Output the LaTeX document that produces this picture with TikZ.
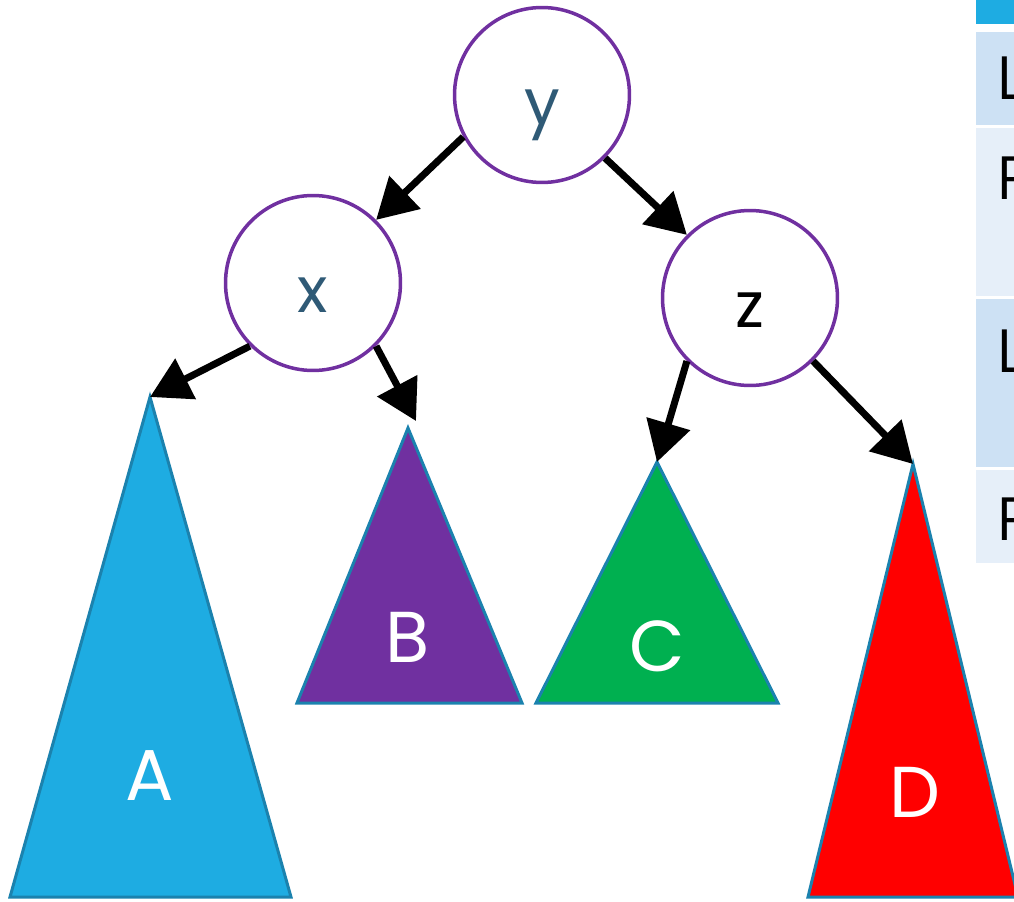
\documentclass[tikz,border=0pt]{standalone}
\usepackage{fontspec}
\setmainfont{Poppins}
\newfontfamily\tblfont{Open Sans}
\usepackage{xcolor}
\usetikzlibrary{arrows.meta}
\definecolor{vtxline}{HTML}{7030A0}
\definecolor{vtxtext}{HTML}{2F5A76}
\definecolor{subline}{HTML}{1B82AE}
\definecolor{subA}{HTML}{1EACE2}
\definecolor{subB}{HTML}{7030A0}
\definecolor{subC}{HTML}{00B050}
\definecolor{subD}{HTML}{FF0000}
\definecolor{hdr}{HTML}{1EACE2}
\definecolor{rowdark}{HTML}{CDE1F4}
\definecolor{rowlight}{HTML}{E6EFF9}
\tikzset{
  vtx/.style    ={draw=vtxline, circle, line width=0.07cm, minimum size=3.5cm, inner sep=0pt, text=vtxtext, text height=1.2cm, text depth=0pt, font=\fontsize{36}{36}\selectfont},
  sub/.style    ={draw=subline, line width=0.06cm},
  sublbl/.style ={text=white, inner sep=0pt, anchor=base, font=\fontsize{41}{41}\selectfont},
  cell/.style   ={inner sep=0pt, anchor=base west, font=\tblfont\fontsize{34}{34}\selectfont},
  arr/.style    ={-{Triangle[length=0.8cm, width=0.88cm]}, line width=0.14cm},
}
\begin{document}
\begin{tikzpicture}[x=0.02cm, y=-0.02cm]
  \useasboundingbox (0,0) rectangle (1014,902);
  \clip (0,0) rectangle (1014,902);

  \fill[hdr] (976,0) rectangle (1030,24);
  \fill[rowdark] (976,32) rectangle (1030,125);
  \fill[rowlight] (976,128) rectangle (1030,296);
  \fill[rowdark] (976,299) rectangle (1030,467);
  \fill[rowlight] (976,470) rectangle (1030,563);
  \node[cell] (r1) at (996,100) {L};
  \node[cell] (r2) at (996,200) {R};
  \node[cell] (r3) at (996,372) {L};
  \node[cell] (r4) at (996,540) {R};

  \draw[sub, fill=subA] (150,397) -- (291,897) -- (10,897) -- cycle;
  \draw[sub, fill=subB] (408,428) -- (522,703) -- (297,703) -- cycle;
  \draw[sub, fill=subC] (657,462) -- (778,703) -- (536,703) -- cycle;
  \draw[sub, fill=subD] (913,464) -- (1018,897) -- (808,897) -- cycle;
  \coordinate (Atop) at (150,397);
  \coordinate (Btop) at (408,428);
  \coordinate (Ctop) at (657,462);
  \coordinate (Dtop) at (913,464);
  \node[sublbl] (A) at (150,800) {A};
  \node[sublbl] (B) at (408,662) {B};
  \node[sublbl] (C) at (657,671) {C};
  \node[sublbl] (D) at (915,817) {D};

  \node[vtx] (y) at (542,95) {y};
  \node[vtx] (x) at (313,283) {x};
  \node[vtx, text=black] (z) at (750,298) {z};

  \draw[arr] (y.208) -- (x.45);
  \draw[arr] (y.-45) -- (z.135);
  \draw[arr] (x.225) -- (Atop);
  \draw[arr] (x.-45) -- ([shift={(8,-7)}]Btop);
  \draw[arr] (z.225) -- (Ctop);
  \draw[arr] (z.-45) -- (Dtop);
\end{tikzpicture}
\end{document}
